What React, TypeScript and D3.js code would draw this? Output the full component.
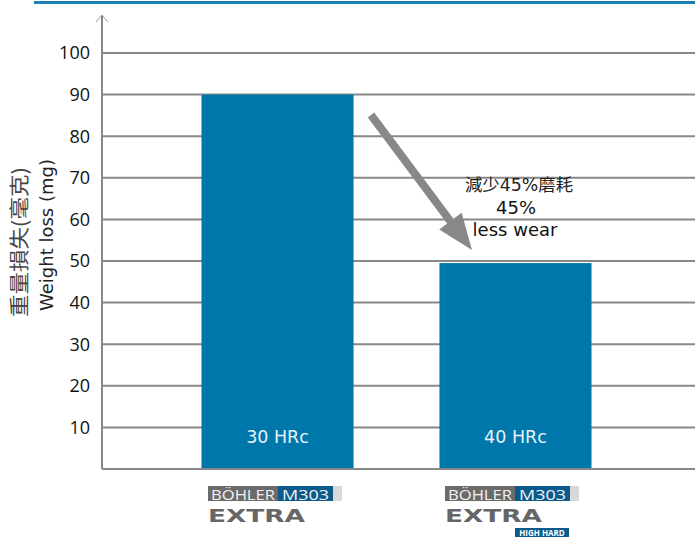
import React from "react";
import * as d3 from "d3";

const categories = ["30 HRc", "40 HRc"];
const values = [90, 49.5];
const yTicks = [10, 20, 30, 40, 50, 60, 70, 80, 90, 100];
const brandMain = "BÖHLER";
const brandCode = "M303";
const brandSub = "EXTRA";
const brandExtra = ["", "HIGH HARD"];
const annotation = ["減少45%磨耗", "45%", "less wear"];
const yTitle = ["重量損失(毫克)", "Weight loss (mg)"];

const W = 695, H = 537;
const x0 = 102, xEnd = 695;
const yTop = 53, yBase = 469;

export default function App() {
  const y = d3.scaleLinear().domain([0, 100]).range([yBase, yTop]);
  const x = d3.scaleBand().domain(categories).range([x0 - 2, xEnd - 2]).paddingInner(0.361).paddingOuter(0.4265);
  const font = "'DejaVu Sans', Verdana, sans-serif";
  const bw = x.bandwidth();

  // arrow geometry
  const sx = 371, sy = 115, tx = 472, ty = 250;
  const len = Math.hypot(tx - sx, ty - sy);
  const ux = (tx - sx) / len, uy = (ty - sy) / len;
  const headL = 36, headW = 14;
  const bx = tx - ux * headL, by = ty - uy * headL;
  const px = -uy, py = ux;
  const head = `M${tx},${ty} L${bx + px * headW},${by + py * headW} L${bx - px * headW},${by - py * headW} Z`;

  return (
    <svg width={W} height={H} style={{ position: "absolute", left: 0, top: 0 }} fontFamily={font}>
      <rect x={34} y={1} width={661} height={3} fill="#1b80b3" />
      {yTicks.map((t) => (
        <g key={t}>
          <line x1={x0} x2={xEnd} y1={y(t)} y2={y(t)} stroke="#888" strokeWidth={2} />
          <text x={90} y={y(t)} dy="0.36em" textAnchor="end" fontSize={18} fill="#111" fontFamily="'Open Sans', sans-serif">{t}</text>
        </g>
      ))}
      {categories.map((c, i) => (
        <g key={c}>
          <rect x={x(c)} y={y(values[i])} width={bw} height={yBase - y(values[i])} fill="#0077ab" />
          <text x={x(c)! + bw / 2} y={437} dy="0.36em" textAnchor="middle" fontSize={17.5} fill="#e8f2f8">{c}</text>
        </g>
      ))}
      <line x1={x0} x2={xEnd} y1={yBase} y2={yBase} stroke="#888" strokeWidth={2} />
      <line x1={x0} x2={x0} y1={16} y2={yBase} stroke="#888" strokeWidth={2} />
      <path d={`M${x0 - 6},22 L${x0},15 L${x0 + 6},22`} fill="none" stroke="#999" strokeWidth={1} />
      <line x1={sx} y1={sy} x2={bx + ux * 2} y2={by + uy * 2} stroke="#888" strokeWidth={8} />
      <path d={head} fill="#888" />
      <text x={519} y={185} dy="0.36em" textAnchor="middle" fontSize={17} fill="#222" fontFamily="'DejaVu Sans', 'Noto Sans CJK TC', sans-serif" textLength={108} lengthAdjust="spacingAndGlyphs">{annotation[0]}</text>
      <text x={516} y={208} dy="0.36em" textAnchor="middle" fontSize={18} fill="#111">{annotation[1]}</text>
      <text x={515} y={230} dy="0.36em" textAnchor="middle" fontSize={18} fill="#111">{annotation[2]}</text>
      <g transform="translate(20,242) rotate(-90)">
        <text x={0} y={0} dy="0.36em" textAnchor="middle" fontSize={20} fill="#444" fontFamily="'Noto Sans CJK TC', sans-serif" textLength={150} lengthAdjust="spacingAndGlyphs">{yTitle[0]}</text>
      </g>
      <g transform="translate(47,235) rotate(-90)">
        <text x={0} y={0} dy="0.36em" textAnchor="middle" fontSize={18} fill="#222">{yTitle[1]}</text>
      </g>
      {categories.map((c, i) => {
        const lx = Math.round(x(c)! + bw / 2 - 70);
        return (
          <g key={"logo" + c} transform={`translate(${lx},0)`}>
            <rect x={0} y={486} width={70} height={15} fill="#6b6b6b" />
            <rect x={70} y={486} width={55} height={15} fill="#0c5a8c" />
            <rect x={125} y={486} width={9} height={15} fill="#d9d9d9" />
            <text x={3} y={499.5} fontSize={14.5} fill="#f2f2f2" fontFamily="'Open Sans', sans-serif" textLength={64} lengthAdjust="spacingAndGlyphs">{brandMain}</text>
            <text x={74} y={499.5} fontSize={14.5} fill="#f2f2f2" fontFamily="'Open Sans', sans-serif" textLength={47} lengthAdjust="spacingAndGlyphs">{brandCode}</text>
            <text x={0} y={522} fontSize={18} fontWeight="bold" fill="#666" fontFamily="'DejaVu Sans', sans-serif" textLength={97} lengthAdjust="spacingAndGlyphs">{brandSub}</text>
            {brandExtra[i] && (
              <g>
                <rect x={70} y={528} width={54} height={9} fill="#0c5a8c" />
                <text x={97} y={535.5} textAnchor="middle" fontSize={8} fontWeight="bold" fill="#fff" fontFamily="'Open Sans', sans-serif">{brandExtra[i]}</text>
              </g>
            )}
          </g>
        );
      })}
    </svg>
  );
}
